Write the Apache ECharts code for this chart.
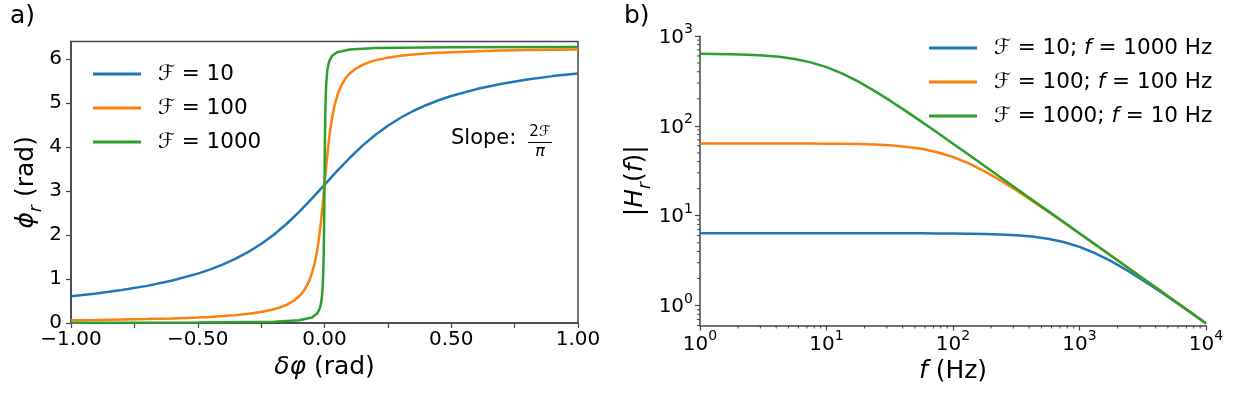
<!DOCTYPE html>
<html><head><meta charset="utf-8">
<script src="https://cdn.jsdelivr.net/npm/echarts@6/dist/echarts.min.js"></script>
<style>html,body{margin:0;padding:0;background:#fff}#c{width:1235px;height:395px}</style>
</head><body><div id="c"></div>
<script>
// ---------- Panel a) reflection phase vs detuning ----------
const dphi10 = [-1,-0.9,-0.8,-0.7,-0.6,-0.5,-0.45,-0.4,-0.35,-0.3,-0.25,-0.2,-0.15,-0.1,-0.05,0,
  0.05,0.1,0.15,0.2,0.25,0.3,0.35,0.4,0.45,0.5,0.6,0.7,0.8,0.9,1];
const phi10 = [0.609,0.670,0.748,0.844,0.965,1.122,1.219,1.332,1.464,1.617,1.797,2.007,2.251,2.526,2.826,3.142,
  3.457,3.757,4.032,4.276,4.486,4.666,4.820,4.951,5.064,5.161,5.318,5.439,5.535,5.613,5.674];

const dphi100 = [-1,-0.9,-0.8,-0.7,-0.6,-0.5,-0.45,-0.4,-0.35,-0.3,-0.25,-0.2,-0.18,-0.15,-0.12,-0.1,-0.09,-0.08,-0.07,-0.06,-0.05,-0.04,-0.035,-0.03,-0.025,-0.02,-0.015,-0.01,-0.005,0,
  0.005,0.01,0.015,0.02,0.025,0.03,0.035,0.04,0.05,0.06,0.07,0.08,0.09,0.1,0.12,0.15,0.18,0.2,0.25,0.3,0.35,0.4,0.45,0.5,0.6,0.7,0.8,0.9,1];
const phi100 = [0.063,0.070,0.079,0.090,0.105,0.126,0.139,0.157,0.179,0.209,0.250,0.312,0.346,0.413,0.512,0.609,0.670,0.748,0.844,0.965,1.122,1.332,1.464,1.617,1.797,2.007,2.251,2.526,2.826,3.142,
  3.457,3.757,4.032,4.276,4.486,4.666,4.820,4.951,5.161,5.318,5.439,5.535,5.613,5.674,5.771,5.870,5.937,5.971,6.033,6.074,6.104,6.126,6.144,6.157,6.178,6.193,6.204,6.213,6.220];

const dphi1000 = [-1,-0.5,-0.2,-0.1,-0.05,-0.03,-0.02,-0.015,-0.012,-0.01,-0.008,-0.007,-0.006,-0.005,-0.004,-0.003,-0.002,-0.0015,-0.001,-0.0005,0,
  0.0005,0.001,0.0015,0.002,0.003,0.004,0.005,0.006,0.007,0.008,0.01,0.012,0.015,0.02,0.03,0.05,0.1,0.2,0.5,1];
const phi1000 = [0.006,0.013,0.031,0.063,0.126,0.209,0.312,0.413,0.512,0.609,0.748,0.844,0.965,1.122,1.332,1.617,2.007,2.251,2.526,2.826,3.142,
  3.457,3.757,4.032,4.276,4.666,4.951,5.161,5.318,5.439,5.535,5.674,5.771,5.870,5.971,6.074,6.157,6.220,6.252,6.270,6.277];

// ---------- Panel b) transfer function magnitude ----------
const freq = [1,1.334,1.778,2.371,3.162,4.217,5.623,7.499,10,13.34,17.78,23.71,31.62,42.17,56.23,74.99,
  100,133.4,177.8,237.1,316.2,421.7,562.3,749.9,1000,1334,1778,2371,3162,4217,5623,7499,10000];
const H10   = [6.37,6.37,6.37,6.37,6.37,6.37,6.37,6.37,6.37,6.37,6.37,6.37,6.36,6.36,6.36,6.35,
  6.33,6.31,6.27,6.19,6.07,5.87,5.55,5.09,4.50,3.82,3.12,2.47,1.92,1.47,1.115,0.842,0.633];
const H100  = [63.7,63.7,63.6,63.6,63.6,63.6,63.6,63.5,63.3,63.1,62.7,61.9,60.7,58.7,55.5,50.9,
  45.0,38.2,31.2,24.7,19.19,14.69,11.15,8.42,6.33,4.76,3.58,2.68,2.012,1.509,1.132,0.849,0.637];
const H1000 = [633,631,627,619,607,587,555,509,450,382,312,247,191.9,146.9,111.5,84.2,
  63.3,47.6,35.8,26.8,20.1,15.09,11.32,8.49,6.37,4.77,3.58,2.69,2.013,1.510,1.132,0.849,0.637];

const namesA = ['ℱ = 10','ℱ = 100','ℱ = 1000'];
const namesB = ['ℱ = 10; f = 1000 Hz','ℱ = 100; f = 100 Hz','ℱ = 1000; f = 10 Hz'];
const colors = ['#1f77b4','#ff7f0e','#2ca02c'];
const yTicksB = [1,10,100,1000];
const xTicksB = [1,10,100,1000,10000];

const FF = 'DejaVu Sans';
const axisCol = '#444';
const pairs = (xs, ys) => xs.map((x,i)=>[x, ys[i]]);
const minus = v => (v < 0 ? '\u2212' : '') + Math.abs(v).toFixed(2);

const supRich = {
  b:{fontSize:20, fontFamily:FF, color:'#000', lineHeight:23, verticalAlign:'bottom'},
  s:{fontSize:14, fontFamily:FF, color:'#000', lineHeight:14, padding:[0,0,11,0], verticalAlign:'bottom'}
};
const pow10 = v => '{b|10}{s|' + Math.round(Math.log10(v)) + '}';

const nameRich = {
  i:{fontSize:25, fontFamily:FF, fontStyle:'italic', color:'#000', lineHeight:29, verticalAlign:'top'},
  n:{fontSize:25, fontFamily:FF, color:'#000', lineHeight:29, verticalAlign:'top'},
  sub:{fontSize:17, fontFamily:FF, fontStyle:'italic', color:'#000', lineHeight:17, padding:[14,0,0,0], verticalAlign:'top'}
};

const chart = echarts.init(document.getElementById('c'), null, {renderer:'canvas'});

const series = [];
[[dphi10,phi10],[dphi100,phi100],[dphi1000,phi1000]].forEach((d,i)=>{
  series.push({type:'line', name:namesA[i], xAxisIndex:0, yAxisIndex:0, data:pairs(d[0],d[1]),
    showSymbol:false, smooth:false, lineStyle:{width:2.5, color:colors[i]}, itemStyle:{color:colors[i]}, z:3});
});
[H10,H100,H1000].forEach((h,i)=>{
  series.push({type:'line', name:namesB[i], xAxisIndex:1, yAxisIndex:1, data:pairs(freq,h),
    showSymbol:false, smooth:false, lineStyle:{width:2.5, color:colors[i]}, itemStyle:{color:colors[i]}, z:3});
});

const baseGraphic = [
  {type:'text', x:10, y:4, style:{text:'a)', fontSize:25, fontFamily:FF, fill:'#000'}},
  {type:'text', x:624, y:4, style:{text:'b)', fontSize:25, fontFamily:FF, fill:'#000'}},
  {type:'text', x:451, y:139, style:{text:'Slope:', fontSize:21, fontFamily:FF, fill:'#000', verticalAlign:'middle'}},
  {type:'text', x:540, y:132, style:{text:'2ℱ', fontSize:15, fontFamily:FF, fill:'#000', align:'center', verticalAlign:'middle'}},
  {type:'line', shape:{x1:528, y1:142.5, x2:552, y2:142.5}, style:{stroke:'#000', lineWidth:1}},
  {type:'text', x:540, y:152, style:{text:'π', fontSize:16, fontFamily:FF, fontStyle:'italic', fill:'#000', align:'center', verticalAlign:'middle'}}
];

const option = {
  animation:false,
  backgroundColor:'#fff',
  textStyle:{fontFamily:FF},
  grid:[
    {left:71, right:657, top:41.5, bottom:72, show:true, borderColor:axisCol, borderWidth:1.5, backgroundColor:'transparent'},
    {left:700, right:29, top:36, bottom:69.5}
  ],
  legend:[
    {data:namesA, orient:'vertical', left:88, top:57, itemWidth:48, itemHeight:3, icon:'rect', itemGap:10,
      textStyle:{fontSize:21.5, fontFamily:FF, color:'#000', lineHeight:24, padding:[0,0,0,12]}},
    {data:namesB, orient:'vertical', left:924, top:31, itemWidth:48, itemHeight:3, icon:'rect', itemGap:10,
      formatter: n => n.replace('; f =', '; {i|f} ='),
      textStyle:{fontSize:21.5, fontFamily:FF, color:'#000', lineHeight:24, padding:[0,0,0,12],
        rich:{i:{fontSize:21.5, fontFamily:FF, fontStyle:'italic', color:'#000'}}}}
  ],
  xAxis:[
    {type:'value', gridIndex:0, min:-1, max:1, interval:0.25,
      axisLine:{show:true, onZero:false, lineStyle:{color:axisCol, width:1.5}},
      axisTick:{show:true, length:5, lineStyle:{color:axisCol, width:1.2}},
      splitLine:{show:false},
      axisLabel:{fontSize:20, fontFamily:FF, color:'#000', margin:7,
        formatter: v => (Math.abs(v*2 - Math.round(v*2)) < 1e-9 ? minus(v) : '')},
      name:'{i|δφ}{n| (rad)}', nameLocation:'middle', nameGap:28, nameTextStyle:{rich:nameRich}},
    {type:'log', logBase:10, gridIndex:1, min:1, max:10000,
      axisLine:{show:true, onZero:false, lineStyle:{color:axisCol, width:1.5}},
      axisTick:{show:true, length:5, customValues:xTicksB, lineStyle:{color:axisCol, width:1.2}},
      splitLine:{show:false}, minorTick:{show:false},
      axisLabel:{formatter:pow10, rich:supRich, margin:6, customValues:xTicksB},
      name:'{i|f}{n| (Hz)}', nameLocation:'middle', nameGap:30, nameTextStyle:{rich:nameRich}}
  ],
  yAxis:[
    {type:'value', gridIndex:0, min:0, max:6.4, interval:1,
      axisLine:{show:true, onZero:false, lineStyle:{color:axisCol, width:1.5}},
      axisTick:{show:true, length:5, lineStyle:{color:axisCol, width:1.2}},
      splitLine:{show:false},
      axisLabel:{fontSize:20, fontFamily:FF, color:'#000', margin:9, showMaxLabel:false},
      name:'{i|ϕ}{sub|r}{n| (rad)}', nameLocation:'middle', nameRotate:90, nameGap:26, nameTextStyle:{rich:nameRich}},
    {type:'log', logBase:10, gridIndex:1, min:0.6, max:1000,
      axisLine:{show:true, onZero:false, lineStyle:{color:axisCol, width:1.5}},
      axisTick:{show:true, length:5, customValues:yTicksB, lineStyle:{color:axisCol, width:1.2}},
      splitLine:{show:false}, minorTick:{show:false},
      axisLabel:{formatter:pow10, rich:supRich, margin:7, customValues:yTicksB},
      name:'{n||}{i|H}{sub|r}{n|(}{i|f}{n|)|}', nameLocation:'middle', nameRotate:90, nameGap:48, nameTextStyle:{rich:nameRich}}
  ],
  graphic: baseGraphic,
  series: series
};
chart.setOption(option);

// minor ticks for log axes (positions from the library's own scales)
const g = baseGraphic.slice();
const yBottom = chart.convertToPixel({yAxisIndex:1}, 0.6);
const xLeft = chart.convertToPixel({xAxisIndex:1}, 1);
for (let n = 0; n < 4; n++) for (let m = 2; m <= 9; m++) {
  const px = chart.convertToPixel({xAxisIndex:1}, m*Math.pow(10,n));
  g.push({type:'line', shape:{x1:px, y1:yBottom, x2:px, y2:yBottom+3}, style:{stroke:axisCol, lineWidth:1}, z:10});
}
const yMinor = [0.6,0.7,0.8,0.9];
for (let n = 0; n < 3; n++) for (let m = 2; m <= 9; m++) yMinor.push(m*Math.pow(10,n));
yMinor.forEach(v=>{
  const py = chart.convertToPixel({yAxisIndex:1}, v);
  g.push({type:'line', shape:{x1:xLeft-3, y1:py, x2:xLeft, y2:py}, style:{stroke:axisCol, lineWidth:1}, z:10});
});
chart.setOption({graphic:g});
</script></body></html>
